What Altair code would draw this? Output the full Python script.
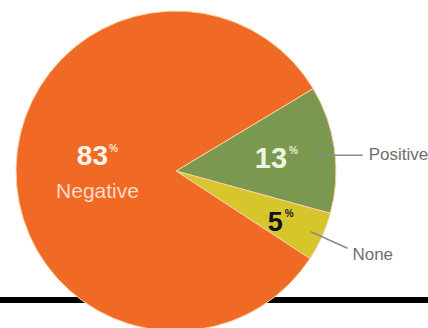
import math
import altair as alt
import pandas as pd

# ---- data ----
categories = ["Positive", "None", "Negative"]
values = [13, 5, 83]
number_labels = ["13", "5", "83"]

colors = ["#7b9850", "#d6c62c", "#f06a26"]

W, H = 428, 328
CX, CY = 176, 171
R = 160
A0 = math.radians(59)

total = sum(values)
starts, ends, mids = [], [], []
acc = 0
for v in values:
    starts.append(acc)
    ends.append(acc + v)
    mids.append(acc + v / 2)
    acc += v

df = pd.DataFrame({"category": categories, "value": values,
                   "start": starts, "end": ends, "mid": mids,
                   "num": number_labels})

theta_scale = alt.Scale(domain=[0, total], range=[A0, A0 + 2 * math.pi])
xs = alt.Scale(domain=[0, W], range=[0, W], nice=False, zero=False)
ys = alt.Scale(domain=[0, H], range=[0, H], nice=False, zero=False)


def polar(mid, r):
    ang = A0 + mid / total * 2 * math.pi
    return CX + r * math.sin(ang), CY - r * math.cos(ang)


def point_frame(cat, r, text, ox=0.0, oy=0.0):
    row = df[df.category == cat].iloc[0]
    x, y = polar(row["mid"], r)
    return pd.DataFrame({"x": [x + ox], "y": [y + oy], "t": [text]})


def text_layer(frame, **kw):
    return alt.Chart(frame).mark_text(font="Liberation Sans", baseline="middle", **kw).encode(
        x=alt.X("x:Q", scale=xs, axis=None),
        y=alt.Y("y:Q", scale=ys, axis=None),
        text="t:N",
    )


base_rule = alt.Chart(pd.DataFrame({"a": [0]})).mark_rule(color="#000000", strokeWidth=6).encode(
    x=alt.value(0), x2=alt.value(W), y=alt.value(300)
)

pie = alt.Chart(df).mark_arc(radius=R, stroke="#f6d3a6", strokeWidth=1).encode(
    theta=alt.Theta("start:Q", scale=theta_scale, stack=None),
    theta2="end:Q",
    color=alt.Color("category:N", scale=alt.Scale(domain=categories, range=colors), legend=None),
    x=alt.value(CX),
    y=alt.value(CY),
)

layers = [base_rule, pie]

# Negative
neg = df[df.category == "Negative"].iloc[0]
layers.append(text_layer(point_frame("Negative", 80, neg["num"]), align="right", fontSize=28,
                         fontWeight="bold", color="#fff4ea", dx=12, dy=-12))
layers.append(text_layer(point_frame("Negative", 80, "%"), align="left", fontSize=10,
                         fontWeight="bold", color="#fde3d0", dx=13, dy=-20))
layers.append(text_layer(point_frame("Negative", 80, "Negative"), align="center", fontSize=21,
                         color="#fddcc6", dx=1.5, dy=22.5))

# Positive
pos = df[df.category == "Positive"].iloc[0]
layers.append(text_layer(point_frame("Positive", 100, pos["num"]), align="right", fontSize=29,
                         fontWeight="bold", color="#eef4e0", dx=12, dy=1.5))
layers.append(text_layer(point_frame("Positive", 100, "%"), align="left", fontSize=10,
                         fontWeight="bold", color="#e4ecd0", dx=14, dy=-6))

# None
non = df[df.category == "None"].iloc[0]
layers.append(text_layer(point_frame("None", 115, non["num"]), align="right", fontSize=27,
                         fontWeight="bold", color="#111111", dx=2, dy=5))
layers.append(text_layer(point_frame("None", 115, "%"), align="left", fontSize=10,
                         fontWeight="bold", color="#222222", dx=4, dy=-4))

# leader lines
px, py = polar(pos["mid"], 138)
pos_line = pd.DataFrame({"x": [px, px + 50], "y": [py + 3, py + 3]})
nx1, ny1 = polar(non["mid"], 148)
nx2, ny2 = polar(non["mid"], 188)
none_line = pd.DataFrame({"x": [nx1, nx2], "y": [ny1, ny2]})
for ln in (pos_line, none_line):
    layers.append(alt.Chart(ln).mark_line(color="#8a8a8a", strokeWidth=1.5).encode(
        x=alt.X("x:Q", scale=xs, axis=None), y=alt.Y("y:Q", scale=ys, axis=None)))

layers.append(text_layer(pd.DataFrame({"x": [px + 56], "y": [py + 3], "t": ["Positive"]}),
                         align="left", fontSize=17, color="#6e6e6e"))
layers.append(text_layer(pd.DataFrame({"x": [nx2 + 5], "y": [ny2 + 7], "t": ["None"]}),
                         align="left", fontSize=17, color="#6e6e6e"))

chart = alt.layer(*layers).properties(
    width=W, height=H, autosize=alt.AutoSizeParams(type="none"), padding=0,
    background="#ffffff",
).configure_view(stroke=None)

chart.save("out.html", embed_options={"renderer": "svg", "actions": False})
